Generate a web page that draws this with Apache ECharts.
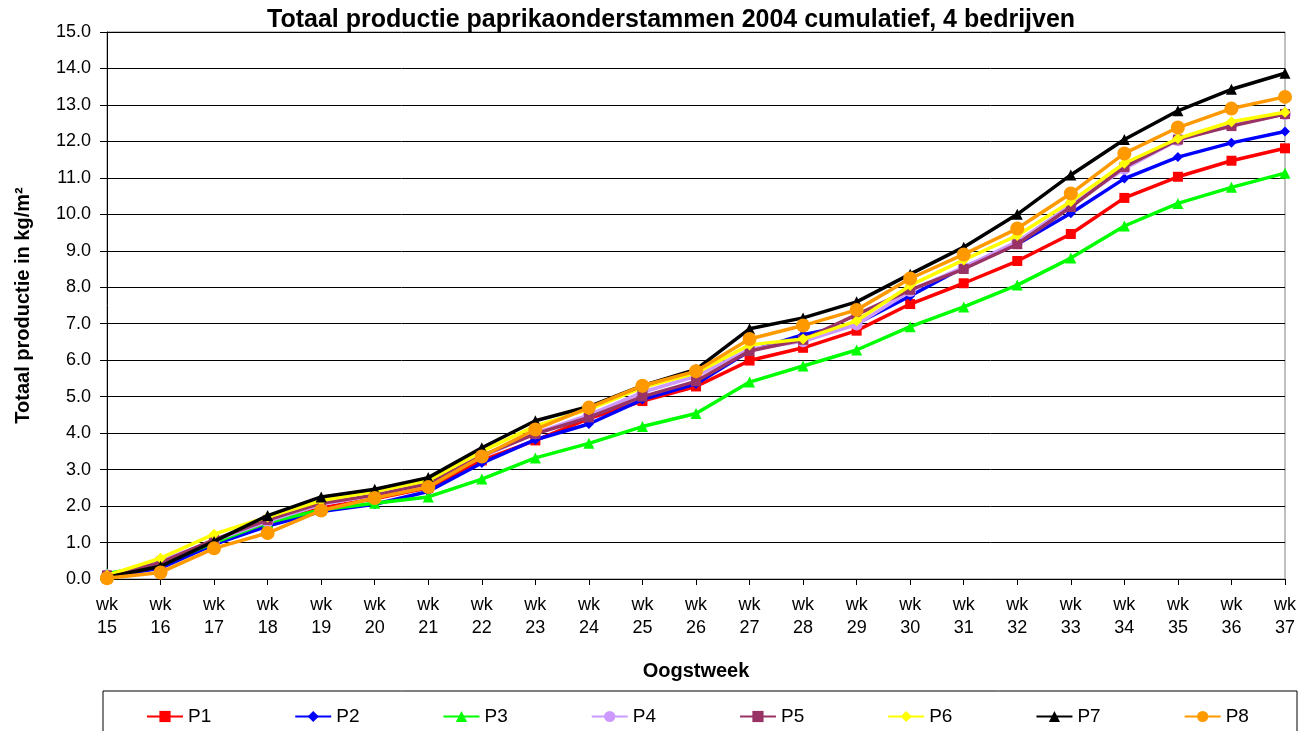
<!DOCTYPE html>
<html>
<head>
<meta charset="utf-8">
<script src="https://cdn.jsdelivr.net/npm/echarts@6/dist/echarts.min.js"></script>
<style>
  html, body { margin: 0; padding: 0; background: #fff; }
  #chart { width: 1311px; height: 731px; }
</style>
</head>
<body>
<div id="chart"></div>
<script>
// oogstweken
var weeks = ['15','16','17','18','19','20','21','22','23','24','25','26','27','28','29','30','31','32','33','34','35','36','37'];

// cumulatieve productie kg/m2 per onderstam
var p1 = [0.05,0.35,0.95,1.50,1.95,2.20,2.50,3.25,3.80,4.40,4.88,5.28,5.99,6.34,6.81,7.54,8.11,8.72,9.46,10.45,11.03,11.47,11.81];
var p2 = [0.05,0.30,0.95,1.45,1.85,2.05,2.40,3.18,3.82,4.25,4.92,5.35,6.25,6.70,7.00,7.76,8.55,9.18,10.03,10.98,11.57,11.96,12.27];
var p3 = [0.15,0.40,1.00,1.55,1.90,2.08,2.25,2.74,3.32,3.72,4.18,4.54,5.40,5.84,6.28,6.92,7.46,8.06,8.80,9.68,10.30,10.74,11.13];
var p4 = [0.10,0.50,1.05,1.58,2.05,2.30,2.60,3.35,4.00,4.50,5.12,5.56,6.30,6.52,6.98,7.90,8.55,9.25,10.25,11.25,12.03,12.45,12.75];
var p5 = [0.10,0.45,1.08,1.62,2.08,2.30,2.62,3.38,3.98,4.43,5.00,5.42,6.25,6.56,7.25,7.93,8.50,9.18,10.20,11.30,12.05,12.42,12.75];
var p6 = [0.10,0.57,1.23,1.70,2.15,2.40,2.70,3.50,4.20,4.65,5.25,5.65,6.42,6.58,7.08,8.05,8.75,9.42,10.35,11.40,12.08,12.54,12.80];
var p7 = [0.05,0.35,1.03,1.74,2.25,2.46,2.78,3.60,4.34,4.73,5.30,5.75,6.86,7.16,7.60,8.36,9.10,10.00,11.08,12.05,12.84,13.43,13.87];
var p8 = [0.02,0.18,0.84,1.26,1.88,2.22,2.52,3.36,4.10,4.70,5.30,5.70,6.58,6.95,7.38,8.24,8.90,9.61,10.57,11.67,12.38,12.90,13.22];

var names = ['P1','P2','P3','P4','P5','P6','P7','P8'];
var values = [p1, p2, p3, p4, p5, p6, p7, p8];
var colors = ['#FF0000','#0000FF','#00FF00','#CC99FF','#993366','#FFFF00','#000000','#FF9900'];
var symbols = ['rect','diamond','triangle','circle','rect','diamond','triangle','circle'];
var sizes = [10, 10, 11, 12, 10, 11, 11, 14];

var font = 'Liberation Sans, Arial, sans-serif';

var series = [];
for (var i = 0; i < names.length; i++) {
    series.push({
        name: names[i],
        type: 'line',
        data: values[i],
        symbol: symbols[i],
        symbolSize: sizes[i],
        showAllSymbol: true,
        animation: false,
        z: 2 + i,
        lineStyle: { color: colors[i], width: 3.5 },
        itemStyle: { color: colors[i], borderWidth: 0 }
    });
}

var chart = echarts.init(document.getElementById('chart'));
chart.setOption({
    backgroundColor: '#fff',
    animation: false,
    title: {
        text: 'Totaal productie paprikaonderstammen 2004 cumulatief, 4 bedrijven',
        left: 262,
        top: 3,
        textStyle: { fontFamily: font, fontSize: 25, fontWeight: 'bold', color: '#000' }
    },
    grid: {
        left: 107, right: 26, top: 32, bottom: 152,
        show: true, borderColor: '#808080', borderWidth: 1
    },
    legend: {
        data: names,
        left: 141,
        top: 702,
        itemWidth: 36,
        itemHeight: 14,
        itemGap: 83,
        textStyle: { fontFamily: font, fontSize: 19, color: '#000' }
    },
    graphic: [{
        type: 'rect',
        shape: { x: 103, y: 691, width: 1194, height: 50 },
        style: { fill: 'none', stroke: '#000', lineWidth: 1 },
        z: -1
    }],
    xAxis: {
        type: 'category',
        data: weeks,
        boundaryGap: false,
        name: 'Oogstweek',
        nameLocation: 'middle',
        nameGap: 82,
        nameTextStyle: { fontFamily: font, fontSize: 20, fontWeight: 'bold', color: '#000' },
        axisLine: { lineStyle: { color: '#000', width: 1 } },
        axisTick: { show: true, length: 6, lineStyle: { color: '#000' } },
        axisLabel: {
            interval: 0,
            margin: 15,
            lineHeight: 23,
            fontFamily: font, fontSize: 18, color: '#000',
            formatter: function (v) { return 'wk\n' + v; }
        },
        splitLine: { show: false }
    },
    yAxis: {
        type: 'value',
        min: 0,
        max: 15,
        interval: 1,
        name: 'Totaal productie in kg/m²',
        nameLocation: 'middle',
        nameGap: 74,
        nameRotate: 90,
        nameTextStyle: { fontFamily: font, fontSize: 20, fontWeight: 'bold', color: '#000' },
        axisLine: { show: true, lineStyle: { color: '#000', width: 1 } },
        axisTick: { show: true, length: 7, lineStyle: { color: '#000' } },
        axisLabel: {
            margin: 16,
            fontFamily: font, fontSize: 18, color: '#000',
            formatter: function (v) { return v.toFixed(1); }
        },
        splitLine: { show: true, lineStyle: { color: '#000', width: 1 } }
    },
    series: series
});
</script>
</body>
</html>
